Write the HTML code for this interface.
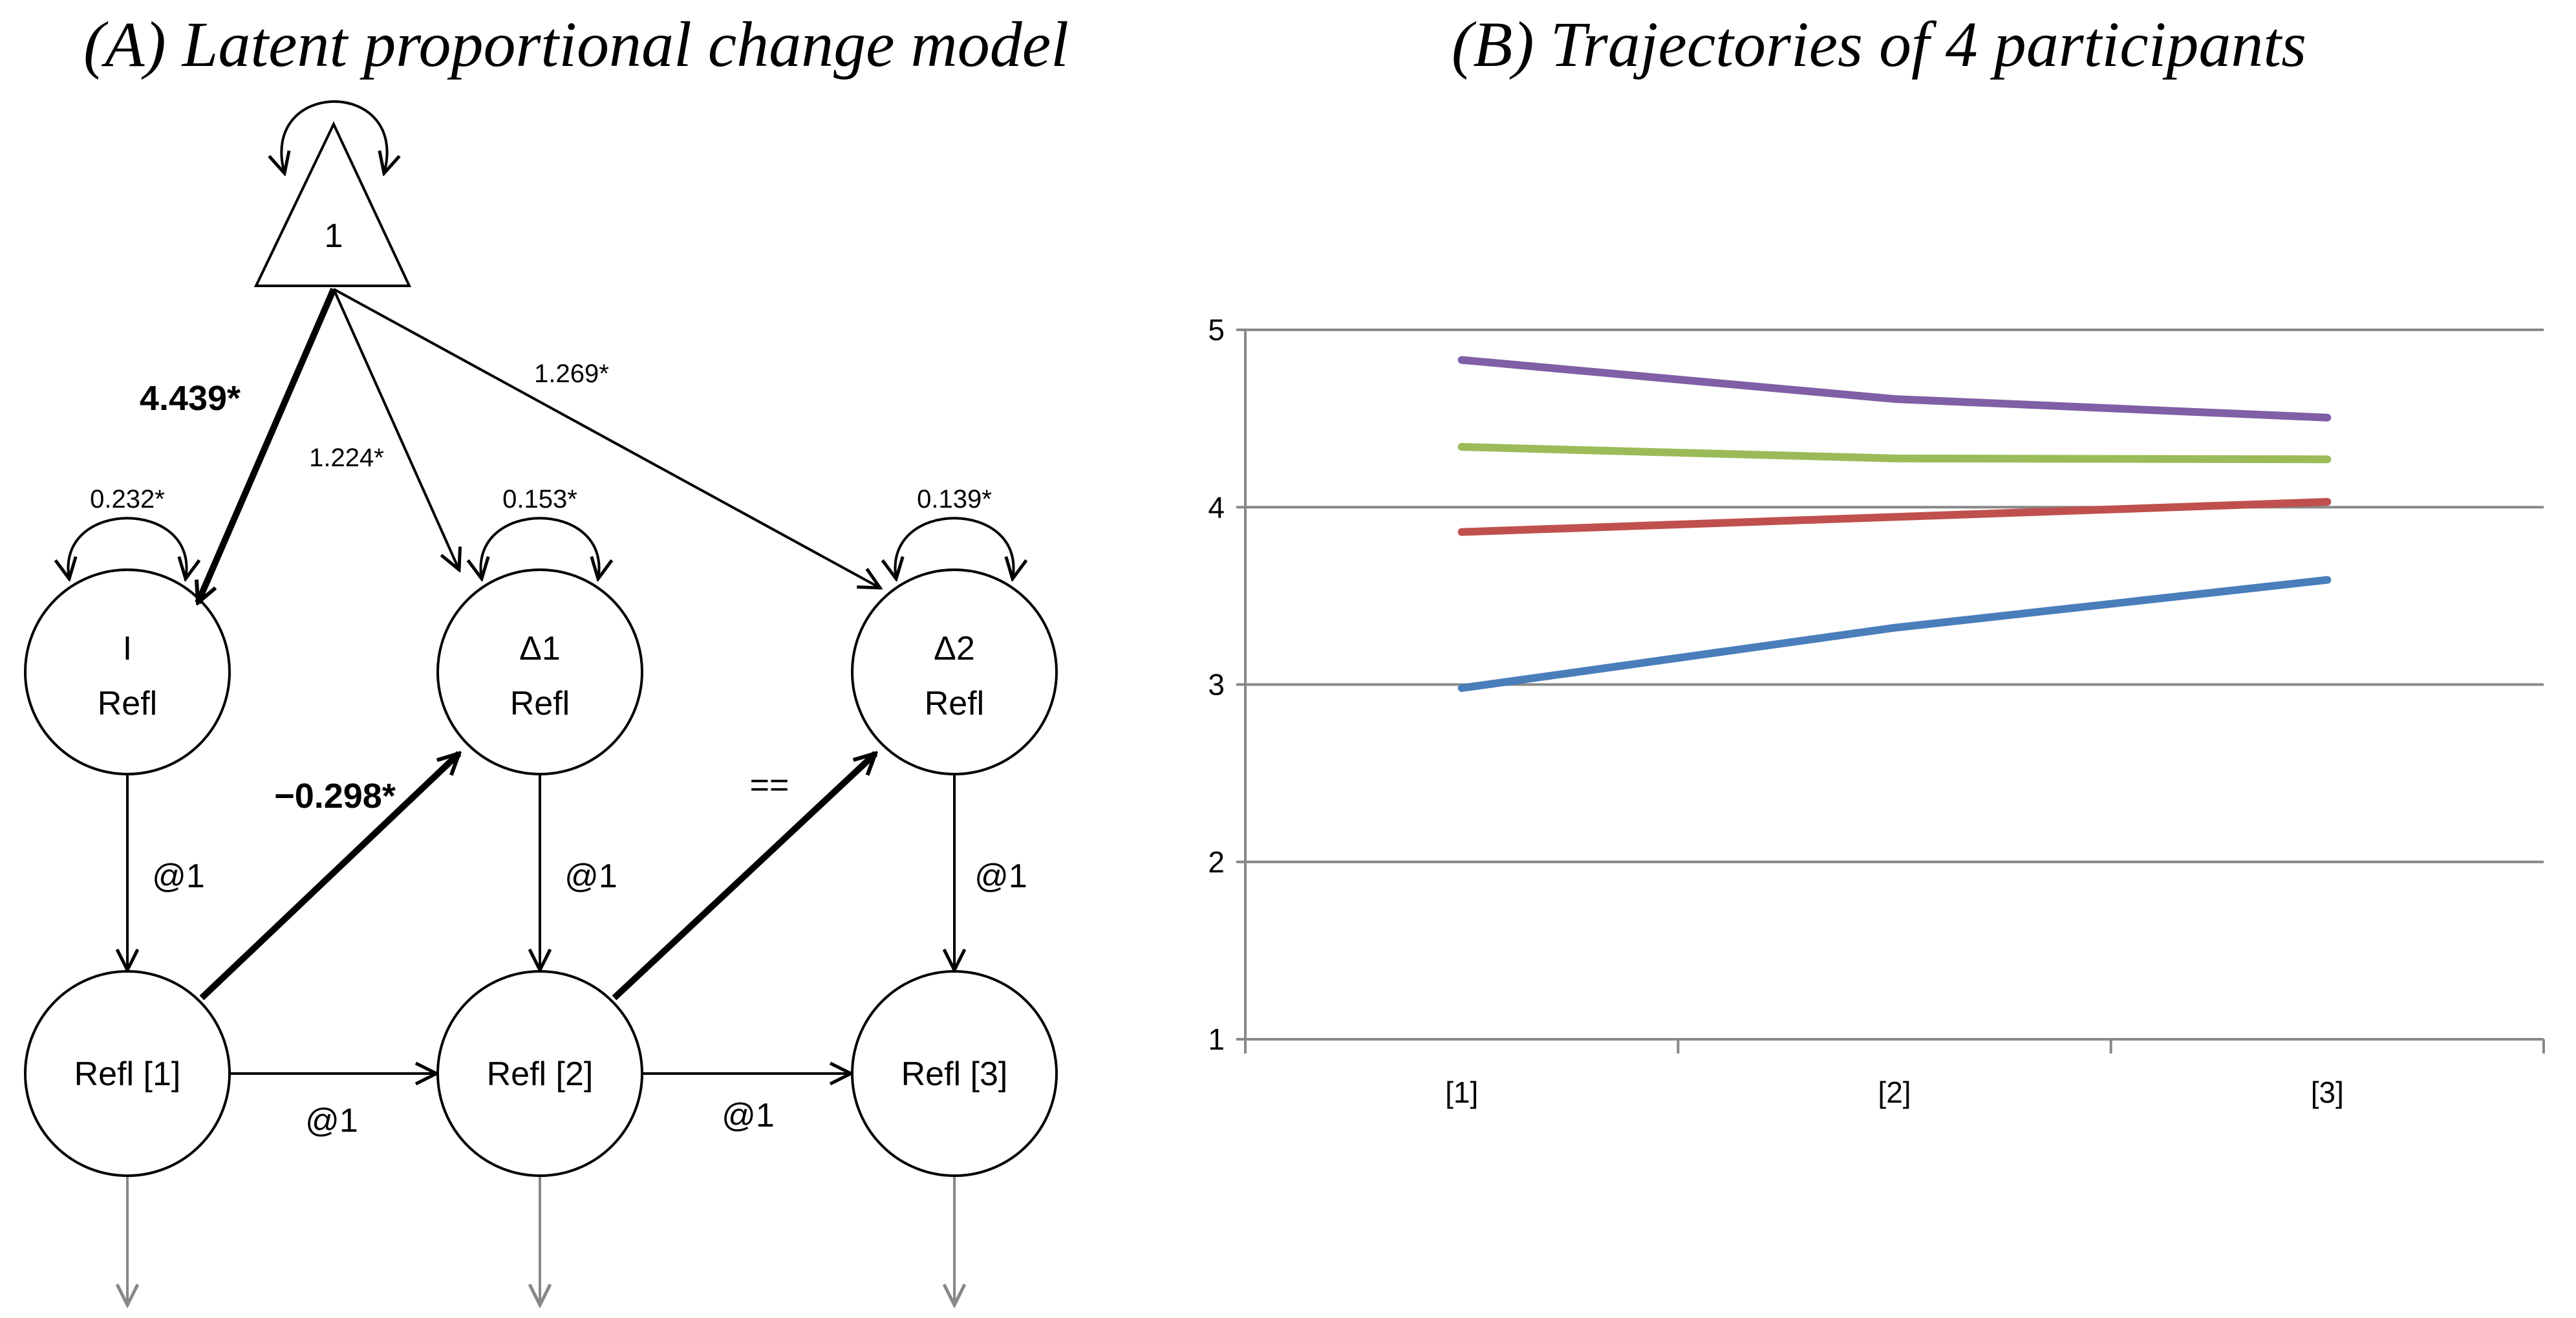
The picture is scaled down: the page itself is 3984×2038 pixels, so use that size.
<!DOCTYPE html>
<html><head><meta charset="utf-8"><style>
body{margin:0;background:#fff}
svg{display:block}
.t{font-family:"Liberation Serif",serif;font-style:italic;font-size:100px}
.s{font-family:"Liberation Sans",sans-serif}
</style></head><body>
<svg id="root" width="3984" height="2038" viewBox="0 0 3984 2038">
<defs>
<marker id="ah" viewBox="0 0 20 20" refX="18" refY="10" markerWidth="40" markerHeight="40" markerUnits="userSpaceOnUse" orient="auto-start-reverse"><path d="M2,2 L18,10 L2,18" fill="none" stroke="#000" stroke-width="2.5"/></marker>
<marker id="ahb" viewBox="0 0 20 20" refX="18" refY="10" markerWidth="40" markerHeight="40" markerUnits="userSpaceOnUse" orient="auto"><path d="M2,2 L18,10 L2,18" fill="none" stroke="#000" stroke-width="3"/></marker>
<marker id="ahg" viewBox="0 0 20 20" refX="18" refY="10" markerWidth="40" markerHeight="40" markerUnits="userSpaceOnUse" orient="auto"><path d="M2,2 L18,10 L2,18" fill="none" stroke="#888" stroke-width="2.5"/></marker>
</defs>
<text class="t" x="891" y="102" text-anchor="middle">(A) Latent proportional change model</text>
<text class="t" x="2906" y="102" text-anchor="middle">(B) Trajectories of 4 participants</text>

<g fill="none" stroke="#000" stroke-width="4">
<polygon points="516,192 396,442 633,442" fill="#fff"/>
<path d="M440,268 C400,120 634,120 594,268" marker-start="url(#ah)" marker-end="url(#ah)"/>
<circle cx="197" cy="1039" r="158"/>
<circle cx="835" cy="1039" r="158"/>
<circle cx="1476" cy="1039" r="158"/>
<circle cx="197" cy="1660" r="158"/>
<circle cx="835" cy="1660" r="158"/>
<circle cx="1476" cy="1660" r="158"/>
<line x1="516" y1="447" x2="306" y2="932" stroke-width="10" marker-end="url(#ahb)"/>
<line x1="516" y1="447" x2="710" y2="881" marker-end="url(#ah)"/>
<line x1="516" y1="447" x2="1361" y2="909" marker-end="url(#ah)"/>
<line x1="312" y1="1543" x2="710" y2="1165" stroke-width="10" marker-end="url(#ahb)"/>
<line x1="950" y1="1543" x2="1354" y2="1165" stroke-width="10" marker-end="url(#ahb)"/>
<line x1="197" y1="1198" x2="197" y2="1500" marker-end="url(#ah)"/>
<line x1="835" y1="1198" x2="835" y2="1500" marker-end="url(#ah)"/>
<line x1="1476" y1="1198" x2="1476" y2="1500" marker-end="url(#ah)"/>
<line x1="357" y1="1660" x2="675" y2="1660" marker-end="url(#ah)"/>
<line x1="995" y1="1660" x2="1316" y2="1660" marker-end="url(#ah)"/>
<path d="M107,895 C85,770 309,770 287,895" marker-start="url(#ah)" marker-end="url(#ah)"/>
<path d="M745,895 C723,770 947,770 925,895" marker-start="url(#ah)" marker-end="url(#ah)"/>
<path d="M1386,895 C1364,770 1588,770 1566,895" marker-start="url(#ah)" marker-end="url(#ah)"/>
<g stroke="#888"><line x1="197" y1="1820" x2="197" y2="2018" marker-end="url(#ahg)"/><line x1="835" y1="1820" x2="835" y2="2018" marker-end="url(#ahg)"/><line x1="1476" y1="1820" x2="1476" y2="2018" marker-end="url(#ahg)"/></g>
</g>
<g class="s" fill="#000" text-anchor="middle" font-size="52">
<text x="516" y="382">1</text>
<text x="197" y="1020">I</text><text x="197" y="1105">Refl</text>
<text x="835" y="1020">Δ1</text><text x="835" y="1105">Refl</text>
<text x="1476" y="1020">Δ2</text><text x="1476" y="1105">Refl</text>
<text x="197" y="1678">Refl [1]</text><text x="835" y="1678">Refl [2]</text><text x="1476" y="1678">Refl [3]</text>
<text x="276" y="1372">@1</text><text x="914" y="1372">@1</text><text x="1548" y="1372">@1</text>
<text x="513" y="1750">@1</text><text x="1157" y="1742">@1</text>
<text x="294" y="634" font-weight="bold" font-size="54">4.439*</text>
<text x="518" y="1249" font-weight="bold" font-size="54">−0.298*</text>
<text x="1190" y="1231" font-size="52">==</text>
<g font-size="40"><text x="536" y="721">1.224*</text><text x="884" y="591">1.269*</text>
<text x="197" y="785">0.232*</text><text x="835" y="785">0.153*</text><text x="1476" y="785">0.139*</text></g>
</g>
<g id="chart"></g>
</svg>
<script>
const categories=["[1]","[2]","[3]"];
const yTicks=[1,2,3,4,5];
const purple=[4.83,4.61,4.505];
const green=[4.34,4.275,4.27];
const red=[3.86,3.945,4.03];
const blue=[2.98,3.32,3.59];
const NS="http://www.w3.org/2000/svg";
const g=document.getElementById('chart');
const X0=1926,X1=3934,Y1=1607,Y5=510;
const cw=(X1-X0)/categories.length;
const xs=i=>X0+cw*(i+0.5);
const ys=v=>Y1-(v-1)*(Y1-Y5)/4;
function mk(t,a){const e=document.createElementNS(NS,t);for(const k in a)e.setAttribute(k,a[k]);g.appendChild(e);return e;}
yTicks.forEach(v=>{
 const l=mk('line',{x1:X0-14,x2:X1,y1:ys(v),y2:ys(v),stroke:'#888','stroke-width':4});
 
 
 const t=mk('text',{x:X0-32,y:ys(v)+16,'text-anchor':'end','font-size':46,'font-family':'Liberation Sans, sans-serif'});
 t.textContent=v;
 
 
});
const ax=mk('line',{x1:X0,x2:X0,y1:Y5,y2:Y1,stroke:'#888','stroke-width':4});


for(let i=0;i<=categories.length;i++){
 const tk=mk('line',{x1:X0+cw*i,x2:X0+cw*i,y1:Y1,y2:Y1+22,stroke:'#888','stroke-width':4});
 
 
}
categories.forEach((c,i)=>{
 const t=mk('text',{x:xs(i),y:Y1+98,'text-anchor':'middle','font-size':46,'font-family':'Liberation Sans, sans-serif'});
 t.textContent=c;
 
 
});
[[purple,'#7f5fa5','series-purple'],[green,'#9bbb59','series-green'],[red,'#c0504d','series-red'],[blue,'#4a7ebb','series-blue']].forEach(([d,col,n])=>{
 const p=mk('polyline',{points:d.map((v,i)=>xs(i)+','+ys(v)).join(' '),fill:'none',stroke:col,'stroke-width':12,'stroke-linecap':'round','stroke-linejoin':'round'});
 
 
});
</script>
</body></html>
